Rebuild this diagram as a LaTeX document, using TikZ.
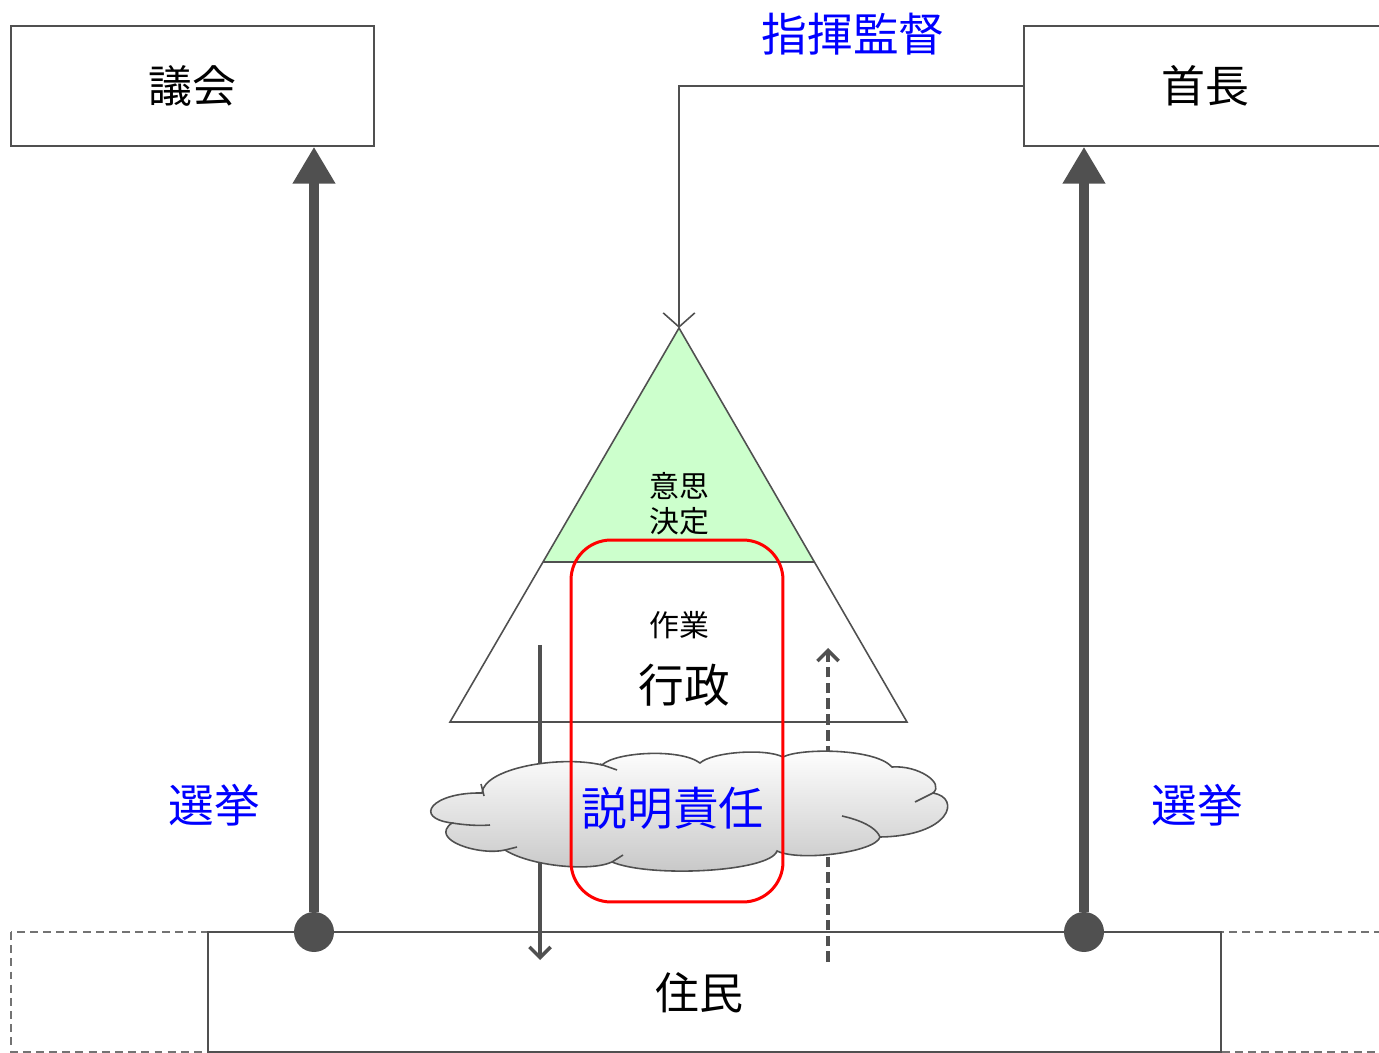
\documentclass[tikz,border=0pt]{standalone}
\usepackage{fontspec}
\setmainfont{Noto Sans CJK JP}
\usetikzlibrary{arrows.meta}
\definecolor{linegray}{RGB}{80,80,80}
\definecolor{paleGreen}{RGB}{204,255,204}
\definecolor{pureBlue}{RGB}{0,0,255}

\begin{document}
\begin{tikzpicture}[x=0.02cm,y=-0.02cm]
\useasboundingbox (0,0) rectangle (1379,1053);
\clip (0,0) rectangle (1379,1053);
\tikzset{
  box/.style={draw=linegray, line width=0.9pt, minimum width=7.26cm, minimum height=2.4cm, font=\fontsize{25}{30}\selectfont},
  bluetext/.style={text=pureBlue, font=\fontsize{26}{30}\selectfont},
  dot/.style={circle, fill=linegray, minimum size=0.8cm, inner sep=0pt},
  vote/.style={draw=linegray, line width=5.7pt, -{Triangle[length=21pt,width=23pt]}},
  flowline/.style={draw=linegray, line width=2pt, -{Straight Barb[length=6pt,width=12pt]}},
  puff/.style={draw=linegray, line width=0.9pt}
}
% boxes
\node[box] (gikai) at (192.5,86) {議会};
\node[box, minimum width=7.24cm] (shucho) at (1205,86) {首長};
\path[draw=linegray!80, line width=0.9pt, dash pattern=on 4.5pt off 3pt] (11,932) rectangle (1400,1052);
\node[draw=linegray, line width=0.9pt, fill=white, minimum width=20.26cm, minimum height=2.4cm] (jumin) at (714.5,992) {};
\node[font=\fontsize{25}{30}\selectfont] at (699,993) {住民};

% pyramid
\coordinate (top) at (679,328);
\path[fill=paleGreen] (top) -- (815,562) -- (543,562) -- cycle;
\path[draw=linegray, line width=0.9pt] (top) -- (907,722) -- (450,722) -- cycle;
\path[draw=linegray, line width=0.9pt] (543,562) -- (815,562);
\node[align=center, font=\fontsize{17}{20}\selectfont] at (679,504) {意思\\決定};
\node[font=\fontsize{17}{20}\selectfont] at (679,625) {作業};
\node[font=\fontsize{26}{30}\selectfont] at (684,685) {行政};
\path[draw=linegray, line width=0.9pt, -{Straight Barb[length=8pt,width=18pt]}] (shucho.west) -| (top);
\node[bluetext] at (853,34) {指揮監督};

% elections
\node[dot] (c1) at (314,932) {};
\node[dot] (c2) at (1084,932) {};
\path[vote] (c1) -- (c1 |- gikai.south);
\path[vote] (c2) -- (c2 |- shucho.south);
\node[bluetext] at (214,805) {選挙};
\node[bluetext] at (1197,805) {選挙};

% accountability
\coordinate (d1) at (540,645);
\coordinate (d2) at (540,960);
\coordinate (u1) at (828,962);
\coordinate (u2) at (828,648);
\path[flowline] (d1) -- (d2);
\path[flowline, dash pattern=on 6pt off 3pt] (u1) -- (u2);
\path[puff, top color=white, bottom color=gray!45]
  (482,793) .. controls (484,768) and (560,755) .. (602,765)
  .. controls (615,752) and (680,748) .. (700,763)
  .. controls (712,752) and (765,748) .. (783,757)
  .. controls (800,748) and (875,748) .. (892,767)
  .. controls (918,765) and (945,783) .. (933,793)
  .. controls (962,798) and (950,836) .. (880,837)
  .. controls (876,852) and (800,862) .. (777,851)
  .. controls (770,872) and (650,878) .. (612,862)
  .. controls (590,872) and (530,866) .. (505,850)
  .. controls (480,856) and (428,840) .. (452,823)
  .. controls (412,818) and (432,792) .. cycle;
\path[puff] (481,784) -- (484,796);
\path[puff] (452,823) .. controls (465,825) and (478,826) .. (490,825);
\path[puff] (505,850) -- (517,847);
\path[puff] (600,764) -- (617,770);
\path[puff] (612,862) -- (623,855);
\path[puff] (842,816) .. controls (860,820) and (876,827) .. (880,837);
\path[puff] (933,793) -- (915,802);
\node[draw=red, line width=1.7pt, rounded corners=0.8cm, minimum width=4.24cm, minimum height=7.24cm] (waku) at (677,721) {};
\node[bluetext] at (673,808) {説明責任};
\end{tikzpicture}
\end{document}
